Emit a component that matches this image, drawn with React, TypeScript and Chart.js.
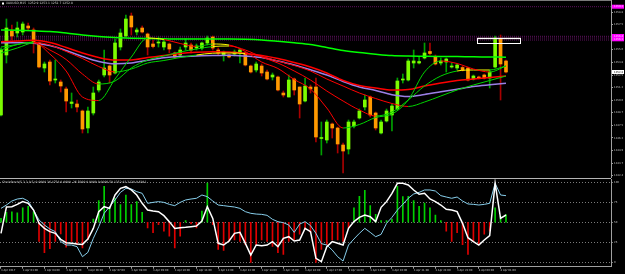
import React, { useEffect, useRef } from 'react';
import { Chart, registerables } from 'chart.js';
Chart.register(...registerables);

// ---------- main panel: candles (XAUUSD, M15) ----------
const opens = [
  1248.5, 1254.5, 1256.9, 1256.7, 1256.8, 1257.4, 1257.0, 1255.7, 1253.2, 1253.8,
  1252.0, 1251.8, 1251.1, 1249.65, 1249.6, 1248.9, 1247.2, 1248.7, 1251.0, 1252.5,
  1253.4, 1252.7, 1255.3, 1256.4, 1258.4, 1256.8, 1257.2, 1256.6, 1255.6, 1255.7,
  1255.3, 1255.6, 1254.7, 1254.5, 1255.3, 1255.5, 1255.2, 1255.2, 1255.7, 1256.3,
  1255.0, 1254.5, 1254.5, 1254.6, 1254.7, 1254.7, 1253.4, 1253.0, 1253.4, 1252.8,
  1252.3, 1252.3, 1250.7, 1250.3, 1252.1, 1251.3, 1249.9, 1251.3, 1251.3, 1246.15,
  1246.0, 1247.6, 1247.2, 1245.5, 1245.1, 1247.4, 1248.2, 1249.3, 1250.3, 1248.7,
  1246.7, 1247.9, 1248.5, 1249.1, 1252.0, 1252.0, 1253.7, 1253.7, 1254.2, 1254.85,
  1254.3, 1253.7, 1253.8, 1253.3, 1253.2, 1253.25, 1253.2, 1252.1, 1252.3, 1252.5,
  1252.2, 1253.3, 1256.1, 1253.9,
];
const highs = [
  1255.2, 1258.1, 1257.5, 1257.8, 1257.8, 1257.7, 1257.2, 1255.8, 1253.8, 1254.0,
  1254.0, 1252.0, 1251.3, 1250.7, 1250.0, 1249.0, 1249.3, 1251.3, 1252.0, 1255.0,
  1253.5, 1256.1, 1257.1, 1258.5, 1258.7, 1257.2, 1257.4, 1256.7, 1256.0, 1256.3,
  1256.1, 1255.7, 1254.8, 1255.3, 1256.1, 1255.7, 1255.6, 1255.8, 1256.4, 1256.4,
  1255.2, 1254.9, 1254.6, 1255.0, 1255.1, 1254.8, 1253.5, 1253.8, 1253.6, 1253.0,
  1252.7, 1252.4, 1250.9, 1252.5, 1252.2, 1251.3, 1252.2, 1251.5, 1252.2, 1247.8,
  1248.0, 1247.7, 1247.3, 1245.7, 1248.0, 1248.0, 1249.1, 1250.5, 1250.4, 1248.8,
  1248.0, 1249.1, 1249.6, 1252.2, 1252.6, 1254.1, 1255.0, 1254.3, 1255.7, 1255.7,
  1254.5, 1254.2, 1254.2, 1253.7, 1253.6, 1253.4, 1253.3, 1252.5, 1252.4, 1252.6,
  1253.0, 1256.4, 1256.5, 1254.0,
];
const lows = [
  1248.4, 1253.7, 1256.0, 1256.3, 1256.5, 1257.0, 1254.7, 1253.2, 1252.8, 1251.5,
  1251.7, 1250.8, 1248.8, 1249.2, 1248.8, 1246.7, 1246.7, 1248.5, 1250.8, 1252.3,
  1251.7, 1252.6, 1255.0, 1256.3, 1256.5, 1256.5, 1256.7, 1254.5, 1255.2, 1255.3,
  1255.0, 1254.7, 1254.2, 1254.3, 1255.0, 1254.7, 1255.0, 1255.0, 1255.5, 1255.0,
  1254.5, 1253.9, 1254.2, 1254.4, 1253.7, 1253.4, 1252.7, 1252.8, 1252.4, 1252.0,
  1252.0, 1250.9, 1250.3, 1250.3, 1250.5, 1248.2, 1249.8, 1250.7, 1245.8, 1244.5,
  1245.7, 1246.2, 1244.7, 1242.7, 1244.6, 1247.2, 1248.1, 1249.0, 1248.3, 1247.0,
  1246.6, 1247.8, 1246.9, 1249.0, 1251.7, 1251.9, 1253.2, 1253.6, 1254.1, 1254.5,
  1253.5, 1253.5, 1252.8, 1253.2, 1253.0, 1252.9, 1251.9, 1252.0, 1252.1, 1252.1,
  1251.2, 1253.2, 1250.0, 1252.7,
];
const closes = [
  1255.0, 1257.2, 1256.4, 1257.2, 1257.6, 1257.2, 1255.8, 1253.3, 1253.6, 1251.9,
  1252.1, 1251.4, 1249.9, 1249.8, 1249.3, 1247.1, 1248.9, 1250.7, 1251.8, 1253.2,
  1252.5, 1255.7, 1256.7, 1258.1, 1257.3, 1257.0, 1256.8, 1255.3, 1255.35, 1255.8,
  1255.8, 1255.1, 1254.3, 1255.0, 1255.7, 1255.0, 1255.4, 1255.7, 1256.2, 1255.2,
  1254.7, 1254.8, 1254.3, 1254.8, 1255.0, 1253.5, 1252.8, 1253.6, 1252.7, 1252.1,
  1252.5, 1251.0, 1250.5, 1252.0, 1251.0, 1249.6, 1251.4, 1251.1, 1246.3, 1246.25,
  1247.8, 1247.2, 1245.6, 1244.9, 1247.8, 1247.8, 1248.9, 1250.0, 1248.5, 1247.2,
  1247.8, 1248.9, 1249.4, 1251.9, 1252.1, 1253.9, 1253.9, 1253.85, 1254.7, 1254.65,
  1253.6, 1253.9, 1254.1, 1253.4, 1253.5, 1253.0, 1252.0, 1252.4, 1252.2, 1252.2,
  1252.8, 1256.2, 1253.6, 1252.8,
];

// moving averages, read every third bar
const maIdx = [0, 3, 6, 9, 12, 15, 18, 21, 24, 27, 30, 33, 36, 39, 42, 45, 48, 51, 54, 57, 60, 63, 66, 69, 72, 75, 78, 81, 84, 87, 90, 93];
const maFast = [1255.0, 1255.55, 1255.78, 1254.6, 1252.9, 1250.3, 1249.95, 1252.1, 1254.3, 1256.2, 1256.05, 1255.65, 1255.35, 1255.6, 1255.5, 1254.85, 1253.8, 1253.15, 1252.05, 1251.1, 1249.2, 1247.2, 1247.55, 1248.25, 1248.6, 1250.0, 1252.8, 1253.9, 1253.65, 1253.1, 1252.8, 1253.4];
const maMid = [1254.7, 1255.2, 1255.7, 1255.0, 1254.05, 1252.6, 1251.6, 1251.9, 1253.2, 1254.0, 1254.4, 1254.8, 1255.1, 1255.35, 1255.4, 1255.0, 1254.3, 1253.7, 1252.9, 1252.0, 1250.9, 1249.9, 1249.0, 1248.4, 1248.8, 1250.0, 1251.4, 1252.4, 1252.9, 1253.0, 1253.0, 1253.4];
const maSlowColor = [1255.3, 1255.55, 1255.78, 1255.5, 1254.85, 1254.15, 1253.35, 1252.8, 1253.1, 1253.7, 1253.95, 1254.25, 1254.5, 1254.68, 1254.7, 1254.65, 1254.35, 1253.9, 1253.45, 1252.9, 1252.1, 1251.4, 1250.7, 1250.15, 1249.65, 1249.35, 1249.8, 1250.4, 1251.0, 1251.5, 1251.95, 1252.4];
const maRed = [1255.83, 1255.9, 1255.97, 1255.75, 1255.25, 1254.7, 1254.25, 1254.0, 1254.0, 1254.25, 1254.45, 1254.65, 1254.77, 1254.83, 1254.8, 1254.65, 1254.45, 1254.15, 1253.75, 1253.3, 1252.7, 1251.95, 1251.45, 1251.2, 1251.0, 1251.05, 1251.4, 1251.7, 1251.95, 1252.1, 1252.25, 1252.4];
const maPurple = [1255.73, 1255.72, 1255.68, 1255.45, 1254.95, 1254.35, 1253.85, 1253.62, 1253.7, 1253.97, 1254.22, 1254.35, 1254.4, 1254.45, 1254.48, 1254.4, 1254.25, 1253.9, 1253.5, 1253.02, 1252.5, 1251.85, 1251.3, 1250.95, 1250.53, 1250.35, 1250.55, 1250.82, 1251.08, 1251.35, 1251.52, 1251.67];
const maLong = [1257.0, 1256.97, 1256.92, 1256.85, 1256.7, 1256.5, 1256.35, 1256.25, 1256.18, 1256.14, 1256.12, 1256.1, 1256.1, 1256.1, 1256.1, 1256.07, 1256.0, 1255.87, 1255.72, 1255.55, 1255.25, 1254.95, 1254.74, 1254.58, 1254.45, 1254.4, 1254.38, 1254.36, 1254.34, 1254.32, 1254.3, 1254.28];

// horizontal levels and axis markers
const levelPrices = [1259.33, 1256.37, 1256.2, 1256.0];
const markerPrices = [1259.33, 1256.4, 1256.07];
const bidPrice = 1252.8;
const boxRange = { from: 87.7, to: 95.7, top: 1256.23, bottom: 1255.77 };
const priceTicks = [1258.8, 1257.54, 1256.28, 1255.02, 1253.76, 1252.5, 1251.24, 1249.98, 1248.72, 1247.46, 1246.2, 1244.94, 1243.68, 1242.42];
const mainTitle = 'XAUUSD,M15  1252.9 1253.1 1252.7 1252.8';

// ---------- lower panel: oscillator ----------
const oscHist = [
  5, 12.5, 13, 11.7, 18, 20, 13, -23.8, -38, -33,
  -24, -14.6, -31, -24, -28, -32, -21.7, 4, 27, 45,
  18, 30, 22, 34, 22, 26, 12.5, -7, -13, -3,
  -11, -17.5, -32, -17.5, 2, -2, -7, 14, 49, -3,
  -34, -35, -24, -22, -24, -28, -50, -28, -22, -24,
  -30, -38, -40, -24, -22, -15, -9, -13, -50, -34,
  -28, -22, -22, -24, -7, 18, 32.5, 40, 21, 10,
  2, 2, 4, 45, 32, 32.5, 27, 20, 24, 18,
  9, 2, -11, -24, -13, -28, -40, -24, -28, -15,
  -11, 18, 7.5, 9.6,
];
const oscMain = [
  36.2, 69.1, 69.5, 72.4, 75.8, 73.7, 65.3, 48.7, 42.4, 38.3,
  36.2, 28.7, 24.5, 23.7, 22.8, 22.4, 29.1, 42.4, 63.3, 69.5,
  67.4, 84.1, 92.4, 94.5, 90.4, 84.1, 73.7, 65.3, 64.1, 63.3,
  58.3, 50.8, 42.4, 43.3, 43.7, 44.5, 45.3, 51.6, 69.5, 54.9,
  23.7, 21.6, 26.6, 36.2, 37.4, 23.7, 9.1, 21.6, 20.8, 21.6,
  25.8, 19.5, 29.9, 32, 26.6, 27.9, 42.4, 38.3, 4.9, 0.8,
  19.5, 25.8, 23.7, 21.6, 42.4, 50.8, 56.2, 59.1, 57, 50.8,
  68.7, 75.8, 86.2, 98.7, 98.7, 96.6, 90.4, 85, 86.2, 79.1,
  75.8, 71.6, 66.2, 65.3, 63.3, 48.7, 30.8, 25.8, 21.6, 27.9,
  33.3, 98.7, 54.9, 59.1,
];
const oscSignal = [
  67.4, 71.6, 76.6, 79.1, 80, 76.6, 65.3, 52.9, 46.6, 41.6,
  38.3, 25.8, 21.6, 21.6, 19.5, 7, 12.4, 29.9, 44.5, 61.2,
  69.5, 77.9, 87.4, 92.4, 91.6, 88.3, 86.2, 73.7, 74.9, 75.8,
  74.9, 72.4, 70.8, 74.9, 77.9, 79.1, 80, 84.1, 82, 76.6,
  71.6, 70.8, 69.9, 69.1, 67.4, 63.3, 61.2, 60.3, 59.9, 58.7,
  53.7, 50.8, 49.5, 46.6, 37.4, 47.8, 50.8, 45.8, 36.2, 23.3,
  21.6, 15.3, 7, 1.6, 21.6, 29.1, 36.2, 42.4, 37.4, 32,
  34.9, 48.7, 56.2, 65.3, 72.4, 80, 85.4, 87.4, 90.4, 90.4,
  89.1, 83.3, 81.6, 80, 81.6, 76.6, 72.9, 72.4, 71.6, 72.4,
  73.7, 98.7, 84.1, 83.3,
];
const oscTicks = [0, 25, 50, 75, 100];
const oscTitle = 'ChoixStoch(5,3,3,0.5) 0.0000 36.4758 0.0000 -26.5090 0.0000 0.0000 59.1352 83.3120 9.6041';

// ---------- time axis ----------
const timeTickIdx = [0, 4, 8, 12, 16, 20, 24, 28, 32, 36, 40, 44, 48, 52, 56, 60, 64, 68, 72, 76, 80, 84, 88, 92];
const timeLabels = [
  '3 Apr 2017', '3 Apr 03:00', '3 Apr 04:00', '3 Apr 05:00', '3 Apr 06:00', '3 Apr 07:00',
  '3 Apr 08:00', '3 Apr 09:00', '3 Apr 10:00', '3 Apr 11:00', '3 Apr 12:00', '3 Apr 13:00',
  '3 Apr 14:00', '3 Apr 15:00', '3 Apr 16:00', '3 Apr 17:00', '3 Apr 18:00', '3 Apr 19:00',
  '3 Apr 20:00', '3 Apr 21:00', '3 Apr 22:00', '3 Apr 23:00', '4 Apr 00:00', '4 Apr 01:00',
];

const X_MIN = -0.184;
const X_MAX = 112.34;
const FONT = 'DejaVu Sans';
const AXIS = '#a0a0a0';
const LABEL = '#c4c4c4';

export default function App() {
  const topRef = useRef<HTMLCanvasElement>(null);
  const botRef = useRef<HTMLCanvasElement>(null);

  useEffect(() => {
    document.body.style.margin = '0';
    document.body.style.background = '#000';
    const idx = opens.map((_, i) => i);
    const bull = (i: number) => closes[i] >= opens[i];
    const segColor = (c: any) => {
      const d = c.p1.parsed.y - c.p0.parsed.y;
      return d > 0.2 ? '#00d400' : d < -0.2 ? '#ff0000' : '#ffff00';
    };
    const maPts = (vals: number[]) => vals.map((v, k) => ({ x: maIdx[k], y: v }));
    const maLine = (vals: number[], color: string, width: number, colored = false, order = 1) => ({
      type: 'line' as const,
      data: maPts(vals),
      borderColor: color,
      borderWidth: width,
      pointRadius: 0,
      cubicInterpolationMode: 'monotone' as const,
      segment: colored ? { borderColor: segColor } : undefined,
      order,
    });

    const topOverlay = {
      id: 'topOverlay',
      afterDraw(chart: any) {
        const { ctx, scales } = chart;
        const xs = scales.x, ys = scales.y;
        ctx.save();
        ctx.fillStyle = '#7a7a7a';
        ctx.fillRect(0, 0, 611, 1);
        const x0 = xs.getPixelForValue(boxRange.from), x1 = xs.getPixelForValue(boxRange.to);
        const y0 = ys.getPixelForValue(boxRange.top), y1 = ys.getPixelForValue(boxRange.bottom);
        ctx.fillStyle = '#c8a8b8';
        ctx.fillRect(x0, y0, x1 - x0, 1.5);
        ctx.strokeStyle = '#ffffff';
        ctx.lineWidth = 1;
        ctx.strokeRect(Math.round(x0) + 0.5, Math.round(y0) + 0.5, Math.round(x1 - x0), Math.round(y1 - y0));
        ctx.fillStyle = '#ffffff';
        ctx.fillRect(2, 2.5, 2, 2);
        ctx.font = `3px "${FONT}"`;
        ctx.fillStyle = '#d0d0d0';
        ctx.textBaseline = 'middle';
        ctx.textAlign = 'left';
        ctx.fillText(mainTitle, 6, 3.6);
        ctx.font = `2.6px "${FONT}"`;
        markerPrices.forEach((p) => {
          const y = ys.getPixelForValue(p);
          ctx.fillStyle = '#ff00ff';
          ctx.fillRect(612, y - 2, 12, 4);
          ctx.fillStyle = '#ffd0ff';
          ctx.fillText(p.toFixed(1), 614, y);
        });
        const yb = ys.getPixelForValue(bidPrice);
        ctx.fillStyle = '#ffffff';
        ctx.fillRect(612, yb - 2, 12, 4);
        ctx.fillStyle = '#000000';
        ctx.fillText(bidPrice.toFixed(1), 614, yb);
        ctx.restore();
      },
    };

    const top = new Chart(topRef.current!, {
      type: 'bar',
      data: {
        datasets: [
          ...levelPrices.map((p) => ({
            type: 'line' as const,
            data: [{ x: X_MIN, y: p }, { x: X_MAX, y: p }],
            borderColor: '#5e0f5e',
            borderWidth: 1,
            borderDash: [1, 1],
            pointRadius: 0,
            order: 9,
          })),
          {
            type: 'bar' as const,
            data: idx.map((i) => ({ x: i, y: [lows[i], highs[i]] })),
            backgroundColor: (c: any) => (bull(c.dataIndex) ? '#00a000' : '#a80000'),
            barThickness: 1,
            grouped: false,
            order: 8,
          },
          {
            type: 'bar' as const,
            data: idx.map((i) => ({ x: i, y: [opens[i], closes[i]] })),
            backgroundColor: (c: any) => (bull(c.dataIndex) ? '#7cfc00' : '#ff9900'),
            barThickness: 3,
            minBarLength: 1,
            grouped: false,
            order: 7,
          },
          maLine(maLong, '#00ff00', 1.5, false, 5),
          maLine(maPurple, '#9b7fe6', 1.5, false, 4),
          maLine(maRed, '#ff0000', 1.5, false, 3),
          maLine(maSlowColor, '#00d400', 1, true, 2),
          maLine(maMid, '#00d400', 1, true, 1),
          maLine(maFast, '#00d400', 1, true, 0),
        ] as any,
      },
      options: {
        animation: false,
        responsive: false,
        maintainAspectRatio: false,
        layout: { padding: 0 },
        plugins: { legend: { display: false }, tooltip: { enabled: false } },
        scales: {
          x: { type: 'linear', display: false, min: X_MIN, max: X_MAX, offset: false },
          y: {
            position: 'right',
            min: 1242.2,
            max: 1260,
            afterFit: (s: any) => { s.width = 14; s.paddingTop = 0; s.paddingBottom = 0; },
            afterBuildTicks: (s: any) => { s.ticks = priceTicks.map((v) => ({ value: v })); },
            ticks: {
              callback: (v: any) => Number(v).toFixed(1),
              font: { size: 2.6, family: FONT },
              color: LABEL,
              padding: 1,
            },
            grid: { drawOnChartArea: false, color: AXIS, tickLength: 2 },
            border: { display: true, color: AXIS },
          },
        },
      } as any,
      plugins: [topOverlay],
    });

    const botOverlay = {
      id: 'botOverlay',
      afterDraw(chart: any) {
        const { ctx } = chart;
        ctx.save();
        ctx.font = `3px "${FONT}"`;
        ctx.fillStyle = '#d0d0d0';
        ctx.textBaseline = 'middle';
        ctx.textAlign = 'left';
        ctx.fillText(oscTitle, 2, 3.5);
        ctx.restore();
      },
    };

    const bot = new Chart(botRef.current!, {
      type: 'bar',
      data: {
        datasets: [
          {
            type: 'bar' as const,
            yAxisID: 'yh',
            data: idx.map((i) => ({ x: i, y: oscHist[i] })),
            backgroundColor: (c: any) => (oscHist[c.dataIndex] >= 0 ? '#00d000' : '#e00000'),
            barThickness: 1,
            grouped: false,
            order: 3,
          },
          {
            type: 'line' as const,
            yAxisID: 'y',
            data: idx.map((i) => ({ x: i, y: oscSignal[i] })),
            borderColor: '#87ceeb',
            borderWidth: 1,
            pointRadius: 0,
            order: 1,
          },
          {
            type: 'line' as const,
            yAxisID: 'y',
            data: idx.map((i) => ({ x: i, y: oscMain[i] })),
            borderColor: '#ffffff',
            borderWidth: 1.5,
            pointRadius: 0,
            order: 0,
          },
        ] as any,
      },
      options: {
        animation: false,
        responsive: false,
        maintainAspectRatio: false,
        layout: { padding: 0 },
        plugins: { legend: { display: false }, tooltip: { enabled: false } },
        scales: {
          x: {
            type: 'linear',
            position: 'bottom',
            min: X_MIN,
            max: X_MAX,
            offset: false,
            afterFit: (s: any) => { s.height = 7.3; s.paddingLeft = 0; s.paddingRight = 0; },
            afterBuildTicks: (s: any) => { s.ticks = timeTickIdx.map((v) => ({ value: v })); },
            ticks: {
              callback: (_v: any, k: number) => timeLabels[k],
              align: 'start',
              maxRotation: 0,
              minRotation: 0,
              autoSkip: false,
              font: { size: 2.6, family: FONT },
              color: LABEL,
              padding: 0.5,
            },
            grid: { drawOnChartArea: false, color: AXIS, tickLength: 2, offset: false },
            border: { display: true, color: AXIS },
          },
          y: {
            position: 'right',
            min: -5.5,
            max: 104.1,
            afterFit: (s: any) => { s.width = 14; s.paddingTop = 0; s.paddingBottom = 0; },
            afterBuildTicks: (s: any) => { s.ticks = oscTicks.map((v) => ({ value: v })); },
            ticks: {
              callback: (v: any) => String(v),
              font: { size: 2.6, family: FONT },
              color: LABEL,
              padding: 1,
            },
            grid: { drawOnChartArea: true, color: '#7a7a7a', tickLength: 2 },
            border: { display: true, color: AXIS, dash: [1, 2] },
          },
          yh: { display: false, min: -55.5, max: 54.1 },
        },
      } as any,
      plugins: [botOverlay],
    });

    return () => {
      top.destroy();
      bot.destroy();
    };
  }, []);

  return (
    <div style={{ width: 625, height: 274, background: '#000', overflow: 'hidden' }}>
      <canvas ref={topRef} width={625} height={178} style={{ display: 'block' }} />
      <div style={{ width: 611, height: 1, background: '#b4b4b4' }} />
      <canvas ref={botRef} width={625} height={95} style={{ display: 'block' }} />
    </div>
  );
}
